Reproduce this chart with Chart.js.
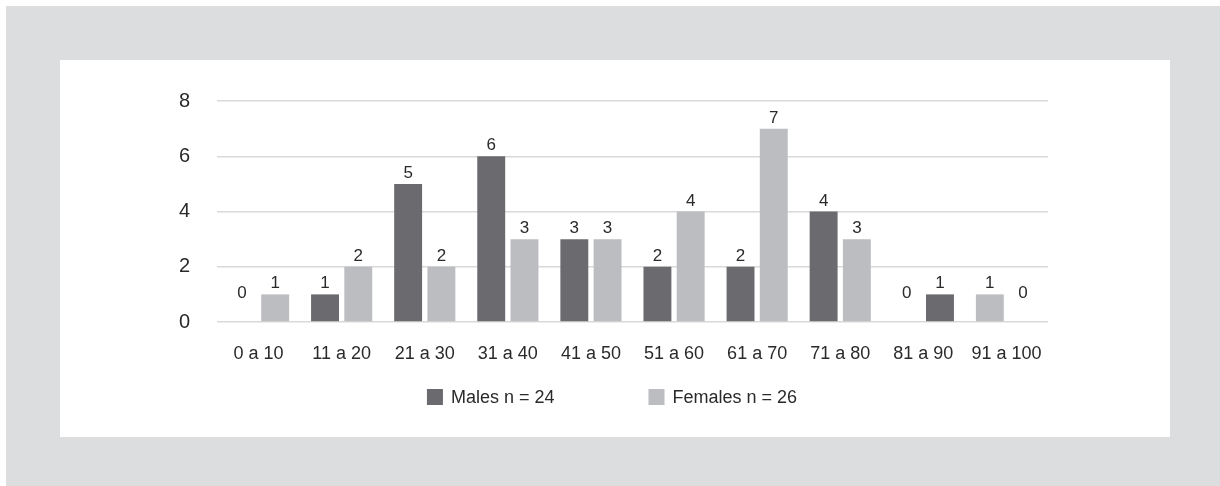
<!DOCTYPE html>
<html>
<head>
<meta charset="utf-8">
<script src="https://cdn.jsdelivr.net/npm/chart.js@4/dist/chart.umd.min.js"></script>
<style>
  html, body { margin: 0; padding: 0; background: #ffffff; }
  #frame {
    position: absolute; left: 6px; top: 6px; width: 1214px; height: 480px;
    background: #dcdddf;
  }
  #panel {
    position: absolute; left: 54px; top: 54px; width: 1110px; height: 377px;
    background: #ffffff;
  }
  #panel canvas { display: block; }
</style>
</head>
<body>
<div id="frame">
  <div id="panel"><canvas id="chart" width="1110" height="377"></canvas></div>
</div>
<script>
// Age bands and counts per band
const ageBands = ['0 a 10', '11 a 20', '21 a 30', '31 a 40', '41 a 50', '51 a 60', '61 a 70', '71 a 80', '81 a 90', '91 a 100'];
const malesCounts = [0, 1, 5, 6, 3, 2, 2, 4, 0, 1];
const femalesCounts = [1, 2, 2, 3, 3, 4, 7, 3, 1, 0];
const yTicks = [0, 2, 4, 6, 8];
const seriesNames = ['Males n = 24', 'Females n = 26'];

const DARK = '#6b6b6f';
const LIGHT = '#bcbdc1';
const TEXT = '#2a2a2a';
const FONT = '"Liberation Sans", Arial, sans-serif';

// Fill colour per bar in each series
const maleFill = ['#6b6b6f', '#6b6b6f', '#6b6b6f', '#6b6b6f', '#6b6b6f', '#6b6b6f', '#6b6b6f', '#6b6b6f', '#6b6b6f', '#bcbdc1'];
const femaleFill = ['#bcbdc1', '#bcbdc1', '#bcbdc1', '#bcbdc1', '#bcbdc1', '#bcbdc1', '#bcbdc1', '#bcbdc1', '#6b6b6f', '#bcbdc1'];

// Value labels above each bar
const valueLabels = {
  id: 'valueLabels',
  afterDatasetsDraw(chart) {
    const ctx = chart.ctx;
    const base = chart.scales.y.getPixelForValue(0);
    ctx.save();
    ctx.font = '17px ' + FONT;
    ctx.fillStyle = TEXT;
    ctx.textAlign = 'center';
    ctx.textBaseline = 'alphabetic';
    chart.data.datasets.forEach((ds, di) => {
      chart.getDatasetMeta(di).data.forEach((bar, i) => {
        const y = Math.min(bar.y - 6, base - 24);
        ctx.fillText(String(ds.data[i]), bar.x, y);
      });
    });
    ctx.restore();
  }
};

// Legend row below the axis
const legendRow = {
  id: 'legendRow',
  afterDraw(chart) {
    const ctx = chart.ctx;
    const box = 16, gapText = 8, gapItem = 94, top = 329;
    const swatch = [DARK, LIGHT];
    ctx.save();
    ctx.font = '18px ' + FONT;
    const widths = seriesNames.map(t => box + gapText + ctx.measureText(t).width);
    const total = widths.reduce((a, b) => a + b, 0) + gapItem * (widths.length - 1);
    let x = chart.width / 2 - total / 2 - 3;
    ctx.textBaseline = 'middle';
    ctx.textAlign = 'left';
    seriesNames.forEach((t, i) => {
      ctx.fillStyle = swatch[i];
      ctx.fillRect(x, top, box, box);
      ctx.fillStyle = TEXT;
      ctx.fillText(t, x + box + gapText, top + box / 2 + 1);
      x += widths[i] + gapItem;
    });
    ctx.restore();
  }
};

new Chart(document.getElementById('chart'), {
  type: 'bar',
  data: {
    labels: ageBands,
    datasets: [
      { label: seriesNames[0], data: malesCounts, backgroundColor: maleFill,
        categoryPercentage: 0.8, barPercentage: 0.84 },
      { label: seriesNames[1], data: femalesCounts, backgroundColor: femaleFill,
        categoryPercentage: 0.8, barPercentage: 0.84 }
    ]
  },
  options: {
    responsive: false,
    animation: false,
    layout: { padding: { top: 41, right: 122, bottom: 0, left: 0 } },
    plugins: {
      legend: { display: false },
      tooltip: { enabled: false }
    },
    scales: {
      x: {
        grid: { display: false, drawTicks: false },
        border: { display: false },
        ticks: { color: TEXT, font: { family: FONT, size: 18 }, padding: 21, maxRotation: 0, autoSkip: false },
        afterFit(scale) { scale.height = 115; }
      },
      y: {
        min: 0, max: 8,
        afterBuildTicks(scale) { scale.ticks = yTicks.map(v => ({ value: v })); },
        grid: { color: '#d9d9d9', lineWidth: 1.5, drawTicks: false },
        border: { display: false },
        ticks: { color: TEXT, font: { family: FONT, size: 20 }, padding: 27 },
        afterFit(scale) { scale.width = 157; }
      }
    }
  },
  plugins: [valueLabels, legendRow]
});
</script>
</body>
</html>
